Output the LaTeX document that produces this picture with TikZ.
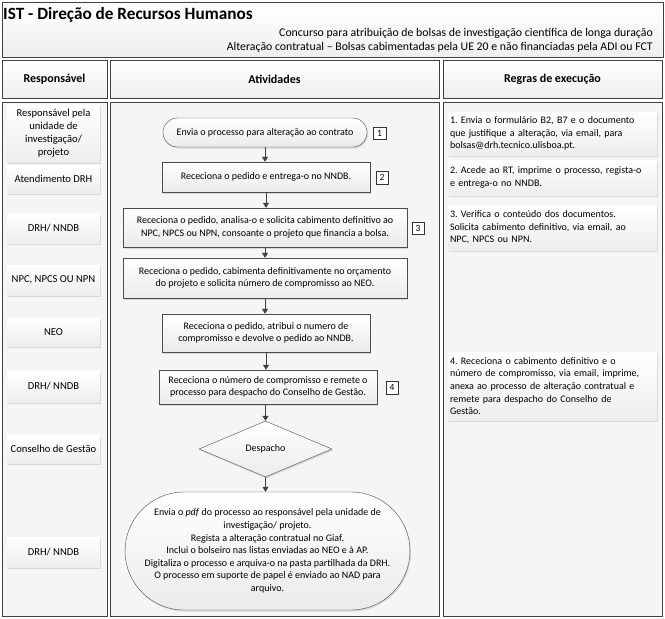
\documentclass[tikz,border=0pt]{standalone}
\usepackage{fontspec}
\setmainfont{Carlito}
\usetikzlibrary{shapes.geometric,shapes.misc,shadows,arrows.meta}
\frenchspacing

\begin{document}
\begin{tikzpicture}[x=1pt, y=-1pt,
  lane/.style={draw=black!75, line width=0.8pt, top color=white, bottom color=gray!13},
  lanebody/.style={draw=black!75, line width=0.8pt, fill=gray!8},
  txt/.style={font=\fontsize{10pt}{12.6pt}\selectfont},
  headtxt/.style={font=\fontsize{12pt}{14pt}\selectfont\bfseries},
  softshadow/.style={drop shadow={shadow xshift=1pt, shadow yshift=-1.5pt, opacity=0.25}},
  role/.style={font=\fontsize{10.6pt}{13pt}\selectfont, align=center, minimum width=93pt, inner sep=1pt, top color=white, bottom color=gray!14, softshadow},
  rulebox/.style={txt, align=left, text width=205pt, inner sep=2pt, top color=white, bottom color=gray!14, softshadow},
  stepbox/.style={txt, draw=black!70, align=center, inner sep=2pt, top color=white, bottom color=gray!16, softshadow},
  term/.style={stepbox, rounded rectangle},
  decision/.style={stepbox, diamond, aspect=2.4, inner sep=0pt},
  tag/.style={draw=black!80, fill=white, font=\fontsize{9.5pt}{10pt}\selectfont, minimum width=12.5pt, minimum height=12.5pt, inner sep=0pt},
  flow/.style={draw=black!75, line width=1pt, -{Triangle[length=5pt,width=6pt]}}
]
  \useasboundingbox (0,0) rectangle (665,619);

  % title block
  \draw[lane] (2,2) rectangle (663,57);
  \node[font=\fontsize{17.2pt}{20pt}\selectfont\bfseries, anchor=west, inner sep=0pt] (title) at (3,15) {IST - Direção de Recursos Humanos};
  \node[font=\fontsize{11.8pt}{14pt}\selectfont, anchor=east, inner sep=0pt] (sub1) at (653,33) {Concurso para atribuição de bolsas de investigação científica de longa duração};
  \node[font=\fontsize{11.8pt}{14pt}\selectfont, anchor=east, inner sep=0pt] (sub2) at (653,47) {Alteração contratual -- Bolsas cabimentadas pela UE 20 e não financiadas pela ADI ou FCT};

  % column heads
  \draw[lane] (2,60) rectangle (107,98);
  \draw[lane] (110,60) rectangle (439,98);
  \draw[lane] (443,60) rectangle (662,98);
  \node[headtxt] (hresp) at (54.5,79) {Responsável};
  \node[headtxt] (hativ) at (274.5,79) {Atividades};
  \node[headtxt] (hregr) at (552.5,79) {Regras de execução};

  % column bodies
  \draw[lanebody] (2,102) rectangle (107,616);
  \draw[lanebody] (110,102) rectangle (439,616);
  \draw[lanebody] (443,102) rectangle (662,616);

  % roles
  \node[role, minimum height=58pt] (r1) at (53.5,133) {Responsável pela\\unidade de\\investigação/\\projeto};
  \node[role, minimum height=28pt] (r2) at (53.5,179) {Atendimento DRH};
  \node[role, minimum height=30pt] (r3) at (53.5,228) {DRH/ NNDB};
  \node[role, minimum height=30pt] (r4) at (53.5,280) {NPC, NPCS OU NPN};
  \node[role, minimum height=28pt] (r5) at (53.5,332) {NEO};
  \node[role, minimum height=32pt] (r6) at (53.5,386) {DRH/ NNDB};
  \node[role, minimum height=28pt] (r7) at (53.5,449) {Conselho de Gestão};
  \node[role, minimum height=30pt] (r8) at (53.5,552) {DRH/ NNDB};

  % activities
  \node[term, minimum width=208pt, minimum height=29pt] (start) at (265,132.5) {Envia o processo para alteração ao contrato};
  \node[stepbox, minimum width=208pt, minimum height=30pt] (recv) at (266,177) {Receciona o pedido e entrega-o no NNDB.};
  \node[stepbox, minimum width=284pt, minimum height=39pt] (ask) at (265,227.5) {Receciona o pedido, analisa-o e solicita cabimento definitivo ao\\NPC, NPCS ou NPN, consoante o projeto que financia a bolsa.};
  \node[stepbox, minimum width=284pt, minimum height=40pt] (cab) at (265,278) {Receciona o pedido, cabimenta definitivamente no orçamento\\do projeto e solicita número de compromisso ao NEO.};
  \node[stepbox, minimum width=208pt, minimum height=38pt] (neo) at (266,333) {Receciona o pedido, atribui o numero de\\compromisso e devolve o pedido ao NNDB.};
  \node[stepbox, minimum width=218pt, minimum height=34pt] (remit) at (268,387) {Receciona o número de compromisso e remete o\\processo para despacho do Conselho de Gestão.};
  \node[decision, minimum width=133pt, minimum height=56pt] (desp) at (265.5,449) {Despacho};
  \node[term, minimum width=275pt, minimum height=118pt] (fim) at (267.5,551) {Envia o \textit{pdf} do processo ao responsável pela unidade de\\investigação/ projeto.\\Regista a alteração contratual no Giaf.\\Inclui o bolseiro nas listas enviadas ao NEO e à AP.\\Digitaliza o processo e arquiva-o na pasta partilhada da DRH.\\O processo em suporte de papel é enviado ao NAD para\\arquivo.};

  % step tags
  \node[tag] (t1) at (379.5,133) {1};
  \node[tag] (t2) at (382,177.5) {2};
  \node[tag] (t3) at (418,228) {3};
  \node[tag] (t4) at (392,387.5) {4};

  % flow
  \draw[flow] (start.south) -- (start.south |- recv.north);
  \draw[flow] (recv.south) -- (recv.south |- ask.north);
  \draw[flow] (ask.south) -- (ask.south |- cab.north);
  \draw[flow] (cab.south) -- (cab.south |- neo.north);
  \draw[flow] (neo.south) -- (neo.south |- remit.north);
  \draw[flow] (remit.south -| desp) -- (desp.north);
  \draw[flow] (desp.south) -- (desp.south |- fim.north);

  % execution rules
  \node[rulebox, minimum height=43pt] (g1) at (552.5,133.5) {1. Envia o formulário B2, B7 e o documento\\que justifique a alteração, via email, para\\bolsas@drh.tecnico.ulisboa.pt.};
  \node[rulebox, minimum height=35pt] (g2) at (552.5,177.5) {2. Acede ao RT, imprime o processo, regista-o\\e entrega-o no NNDB.};
  \node[rulebox, minimum height=45pt] (g3) at (552.5,227.5) {3. Verifica o conteúdo dos documentos.\\Solicita cabimento definitivo, via email, ao\\NPC, NPCS ou NPN.};
  \node[rulebox, minimum height=68pt] (g4) at (552.5,386) {4. Receciona o cabimento definitivo e o\\número de compromisso, via email, imprime,\\anexa ao processo de alteração contratual e\\remete para despacho do Conselho de\\Gestão.};
\end{tikzpicture}
\end{document}
